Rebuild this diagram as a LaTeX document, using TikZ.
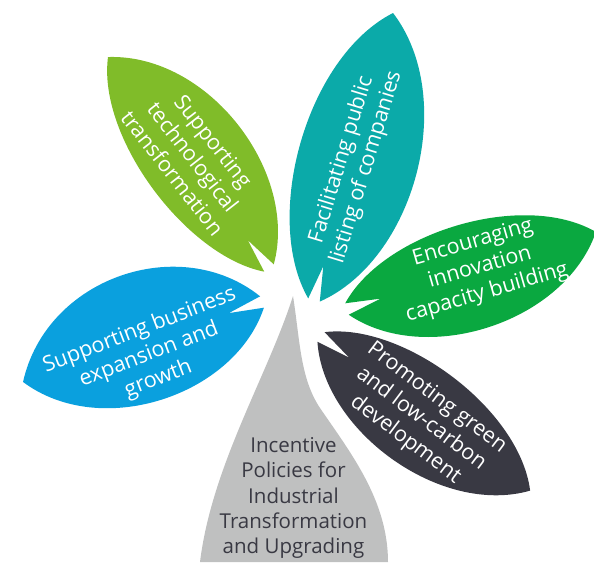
\documentclass[tikz,border=0pt]{standalone}
\usepackage{fontspec}
\setmainfont{Open Sans}
\definecolor{cTech}{RGB}{128,188,41}
\definecolor{cTeal}{RGB}{11,170,169}
\definecolor{cInno}{RGB}{10,168,64}
\definecolor{cBlue}{RGB}{10,160,222}
\definecolor{cDark}{RGB}{57,57,67}
\definecolor{cGrey}{RGB}{191,192,192}
\newcommand\drawleaf[6]{% color, base, angle, length, control height left, control height right
  \begin{scope}[shift={#2},rotate=#3]
    \fill[#1] (0,6) .. controls ({0.22*#4},{#5}) and ({0.78*#4},{#5}) .. (#4,0)
      .. controls ({0.78*#4},{-#6}) and ({0.22*#4},{-#6}) .. (0,-6) -- (35,0) -- cycle;
  \end{scope}}
\tikzset{
  lt/.style={text=white, align=center, inner sep=0pt, font=\fontsize{21.5}{26}\selectfont},
  gt/.style={text=cDark, align=center, inner sep=0pt, font=\fontsize{20.5}{25.3}\selectfont}
}
\begin{document}
\begin{tikzpicture}[x=1pt,y=1pt]
\useasboundingbox (0,0) rectangle (594,-562);
% stem
\fill[cGrey] (293,-296) .. controls (268,-375) and (212,-465) .. (200,-562) -- (388,-562)
  .. controls (388,-500) and (350,-452) .. (320,-408)
  .. controls (300,-378) and (300,-340) .. (293,-296) -- cycle;
% leaves
\drawleaf{cTech}{(269,-268)}{127.35}{265.4}{58}{82}
\drawleaf{cTeal}{(314,-300)}{74.6}{297.7}{72}{86}
\drawleaf{cInno}{(347,-309)}{17.2}{260.6}{62}{78}
\drawleaf{cBlue}{(262,-302)}{198.5}{252}{80}{92}
\drawleaf{cDark}{(321,-337)}{-36.3}{259.5}{60}{74}
% texts
\node[lt, rotate=-52] (t1) at (193,-157) {Supporting\\technological\\transformation};
\node[lt, rotate=73] (t2) at (354,-163.5) {Facilitating public\\listing of companies};
\node[lt, rotate=16] (t3) at (480,-268) {Encouraging\\innovation\\capacity building};
\node[lt, rotate=21] (t4) at (149,-355) {Supporting business\\expansion and\\growth};
\node[lt, rotate=-37] (t5) at (421,-419) {Promoting green\\and low-carbon\\development};
\node[gt] (t6) at (293.5,-498) {Incentive\\Policies for\\Industrial\\Transformation\\and Upgrading};
\end{tikzpicture}
\end{document}
